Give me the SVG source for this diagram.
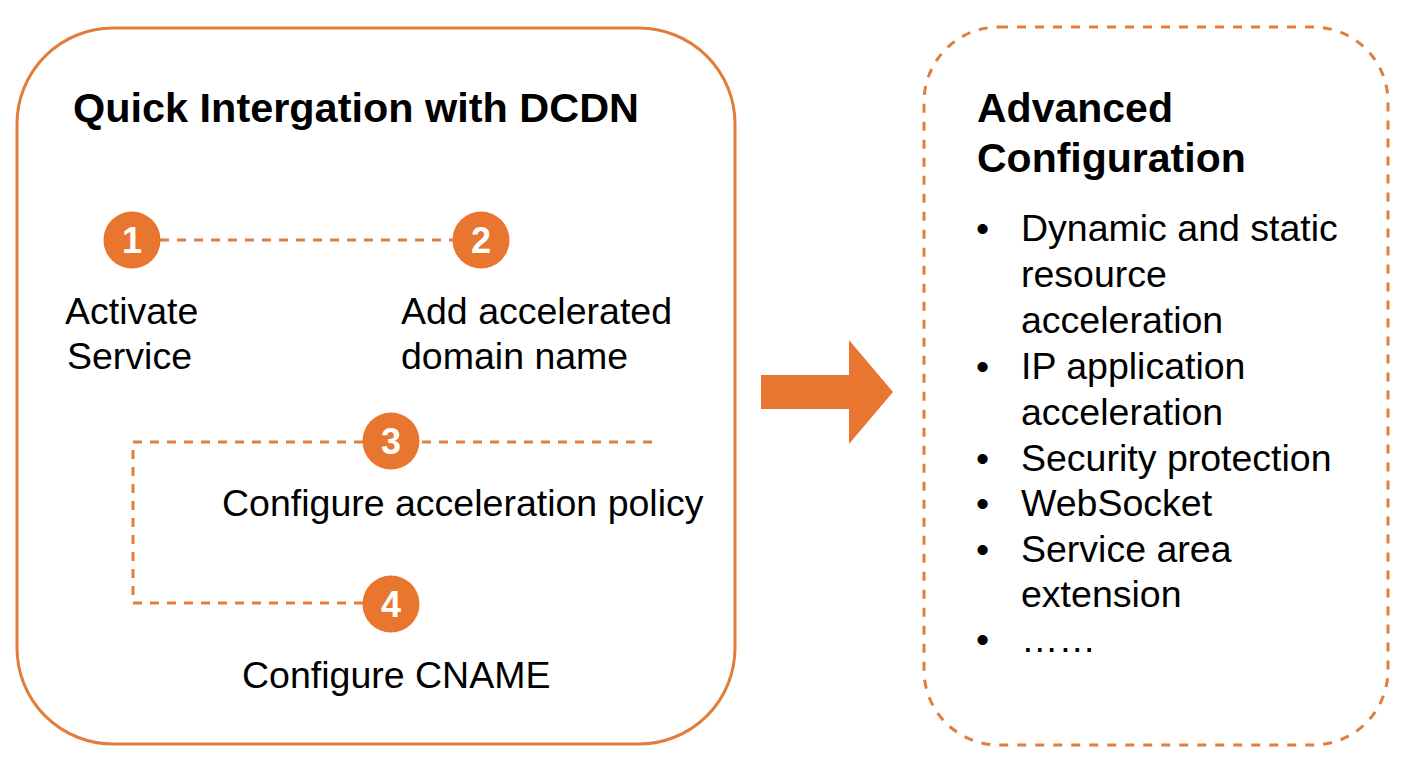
<svg xmlns="http://www.w3.org/2000/svg" width="1408" height="768" viewBox="0 0 1408 768">
<style>
.box{fill:none;stroke:#E27E3C;stroke-width:3}
.dbox{fill:none;stroke:#E27E3C;stroke-width:3;stroke-dasharray:9 9}
.conn{fill:none;stroke:#E27E3C;stroke-width:3;stroke-dasharray:9 8}
.dot{fill:#E8762F}
.num{font-family:"Liberation Sans",Arial,sans-serif;font-weight:bold;font-size:36px;fill:#fff;text-anchor:middle}
.title{font-family:"Liberation Sans",Arial,sans-serif;font-weight:bold;font-size:41px;fill:#000}
.lbl{font-family:"Liberation Sans",Arial,sans-serif;font-size:37.5px;fill:#000}
</style>
<rect width="1408" height="768" fill="#fff"/>
<g id="quick-integration">
<rect class="box" x="17" y="28" width="718" height="716" rx="96" ry="96"/>
<text class="title" x="73" y="122" textLength="566" lengthAdjust="spacingAndGlyphs">Quick Intergation with DCDN</text>
</g>
<g id="connectors">
<line class="conn" x1="160" y1="240" x2="453" y2="240"/>
<polyline class="conn" points="652,442 133,442 133,603 363,603"/>
</g>
<g id="step1">
<circle class="dot" cx="132" cy="240" r="28.5"/>
<text class="num" x="132" y="253">1</text>
<text class="lbl" x="65" y="324">Activate</text>
<text class="lbl" x="67" y="369">Service</text>
</g>
<g id="step2">
<circle class="dot" cx="481" cy="240" r="28.5"/>
<text class="num" x="481" y="253">2</text>
<text class="lbl" x="401" y="324">Add accelerated</text>
<text class="lbl" x="401" y="369">domain name</text>
</g>
<g id="step3">
<circle class="dot" cx="391" cy="441" r="28.5"/>
<text class="num" x="391" y="454">3</text>
<text class="lbl" x="222" y="516">Configure acceleration policy</text>
</g>
<g id="step4">
<circle class="dot" cx="391" cy="604" r="28.5"/>
<text class="num" x="391" y="617">4</text>
<text class="lbl" x="242" y="688">Configure CNAME</text>
</g>
<g id="arrow">
<polygon fill="#E8762F" points="761,375 849,375 849,340 893,392 849,444 849,409 761,409"/>
</g>
<g id="advanced-configuration">
<rect class="dbox" x="924" y="27" width="464" height="718" rx="75" ry="75"/>
<text class="title" x="977" y="122">Advanced</text>
<text class="title" x="977" y="172">Configuration</text>
<g class="lbl">
<text x="976" y="241">•</text>
<text x="1021" y="241">Dynamic and static</text>
<text x="1021" y="287">resource</text>
<text x="1021" y="333">acceleration</text>
<text x="976" y="379">•</text>
<text x="1021" y="379">IP application</text>
<text x="1021" y="425">acceleration</text>
<text x="976" y="471">•</text>
<text x="1021" y="471">Security protection</text>
<text x="976" y="516">•</text>
<text x="1021" y="516">WebSocket</text>
<text x="976" y="562">•</text>
<text x="1021" y="562">Service area</text>
<text x="1021" y="607">extension</text>
<text x="976" y="652">•</text>
<text x="1021" y="652">……</text>
</g>
</g>
</svg>
